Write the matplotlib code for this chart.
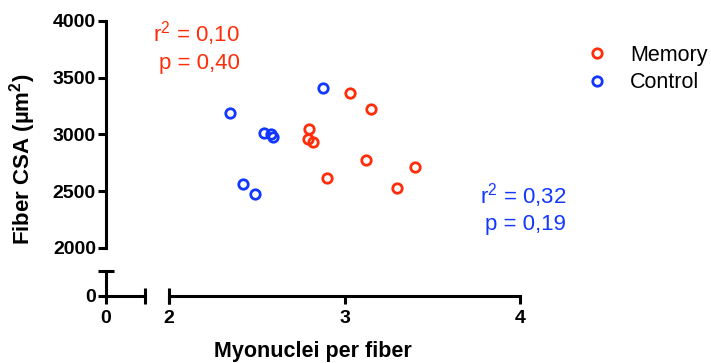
import matplotlib
matplotlib.use("Agg")
import matplotlib.pyplot as plt

# values
memory_x = [2.80, 2.79, 2.82, 2.90, 3.03, 3.15, 3.12, 3.40, 3.30]
memory_y = [3045, 2956, 2930, 2612, 3367, 3224, 2774, 2712, 2524]
control_x = [2.35, 2.42, 2.49, 2.54, 2.58, 2.59, 2.88]
control_y = [3191, 2559, 2476, 3015, 2999, 2977, 3406]

y_ticks = [2000, 2500, 3000, 3500, 4000]
x_ticks = [2, 3, 4]

memory_stats = ["r$^{2}$ = 0,10", "p = 0,40"]
control_stats = ["r$^{2}$ = 0,32", "p = 0,19"]

RED = "#FF2D0A"
BLUE = "#1237FF"

plt.rcParams['font.family'] = ['Liberation Sans', 'DejaVu Sans']
plt.rcParams['mathtext.fontset'] = 'custom'
plt.rcParams['mathtext.rm'] = 'Liberation Sans'
plt.rcParams['mathtext.it'] = 'Liberation Sans:italic'
plt.rcParams['mathtext.bf'] = 'Liberation Sans:bold'

W, H = 711, 363
fig = plt.figure(figsize=(W / 100, H / 100), dpi=100)


def px_box(x0, y0, x1, y1):
    # pixel box (top-left origin) -> figure fraction rect
    return [x0 / W, 1 - y1 / H, (x1 - x0) / W, (y1 - y0) / H]


LW = 2.2
tick_kw = dict(width=LW, length=6, labelsize=14)
x_scale = 175.5          # px per unit on x
y_scale = 226.7 / 2000   # px per unit on y
MS, MEW = 6.8, 2.0

# main panel (data + upper y axis)
ax = fig.add_axes(px_box(105.7, 21, 520, 247.7))
ax.set_xlim(2 - (169 - 105.7) / x_scale, 4)
ax.set_ylim(2000, 4000)
for s in ['top', 'right', 'bottom']:
    ax.spines[s].set_visible(False)
ax.spines['left'].set_linewidth(LW)
ax.set_xticks([])
ax.set_yticks(y_ticks)
ax.tick_params(axis='y', pad=1, **tick_kw)
for lab in ax.get_yticklabels():
    lab.set_fontweight('bold')

h_mem, = ax.plot(memory_x, memory_y, 'o', mfc='none', mec=RED, ms=MS, mew=MEW,
                 clip_on=False, label='Memory')
h_con, = ax.plot(control_x, control_y, 'o', mfc='none', mec=BLUE, ms=MS, mew=MEW,
                 clip_on=False, label='Control')

# lower-left broken piece (0 on both axes)
ax_lo = fig.add_axes(px_box(105.7, 271, 145, 295.7))
ax_lo.set_xlim(0, (145 - 105.7) / x_scale)
ax_lo.set_ylim(0, (295.7 - 271) / y_scale)
for s in ['top', 'right']:
    ax_lo.spines[s].set_visible(False)
for s in ['left', 'bottom']:
    ax_lo.spines[s].set_linewidth(LW)
ax_lo.set_xticks([0])
ax_lo.set_yticks([0])
ax_lo.tick_params(axis='y', pad=1, **tick_kw)
ax_lo.tick_params(axis='x', pad=4.5, **tick_kw)
for lab in ax_lo.get_xticklabels() + ax_lo.get_yticklabels():
    lab.set_fontweight('bold')
ax_lo.patch.set_visible(False)
ax_lo.plot([0], [1], marker='_', ms=11, mew=LW, color='k',
           transform=ax_lo.transAxes, clip_on=False)
ax_lo.plot([1], [0], marker='|', ms=11, mew=LW, color='k',
           transform=ax_lo.transAxes, clip_on=False)

# lower-right x axis 2..4
ax_x = fig.add_axes(px_box(169, 271, 520, 295.7))
ax_x.set_xlim(2, 4)
for s in ['top', 'right', 'left']:
    ax_x.spines[s].set_visible(False)
ax_x.spines['bottom'].set_linewidth(LW)
ax_x.set_yticks([])
ax_x.set_xticks(x_ticks)
ax_x.tick_params(axis='x', pad=4.5, **tick_kw)
for lab in ax_x.get_xticklabels():
    lab.set_fontweight('bold')
ax_x.patch.set_visible(False)
ax_x.plot([0], [0], marker='|', ms=11, mew=LW, color='k',
          transform=ax_x.transAxes, clip_on=False)

# axis titles
fig.text(313 / W, 1 - 352 / H, 'Myonuclei per fiber', ha='center', va='center',
         fontsize=15.5, fontweight='bold')
fig.text(22.5 / W, 1 - 159 / H, 'Fiber CSA (\u00b5m$^{\\mathbf{2}}$)', ha='center',
         va='center', rotation=90, fontsize=16, fontweight='bold')

# stats text
for txt, yb in zip(memory_stats, [41, 68.5]):
    fig.text(240 / W, 1 - yb / H, txt, ha='right', va='baseline', fontsize=16, color=RED)
for txt, yb in zip(control_stats, [203, 230]):
    fig.text(566 / W, 1 - yb / H, txt, ha='right', va='baseline', fontsize=16, color=BLUE)

fig.legend(handles=[h_mem, h_con], labels=['Memory', 'Control'], loc='upper left',
           bbox_to_anchor=(586 / W, 1 - 45 / H), frameon=False, fontsize=15.5,
           handlelength=1.0, handletextpad=1.05, borderpad=0, borderaxespad=0,
           labelspacing=0.3)

fig.savefig('out.png', dpi=100)
